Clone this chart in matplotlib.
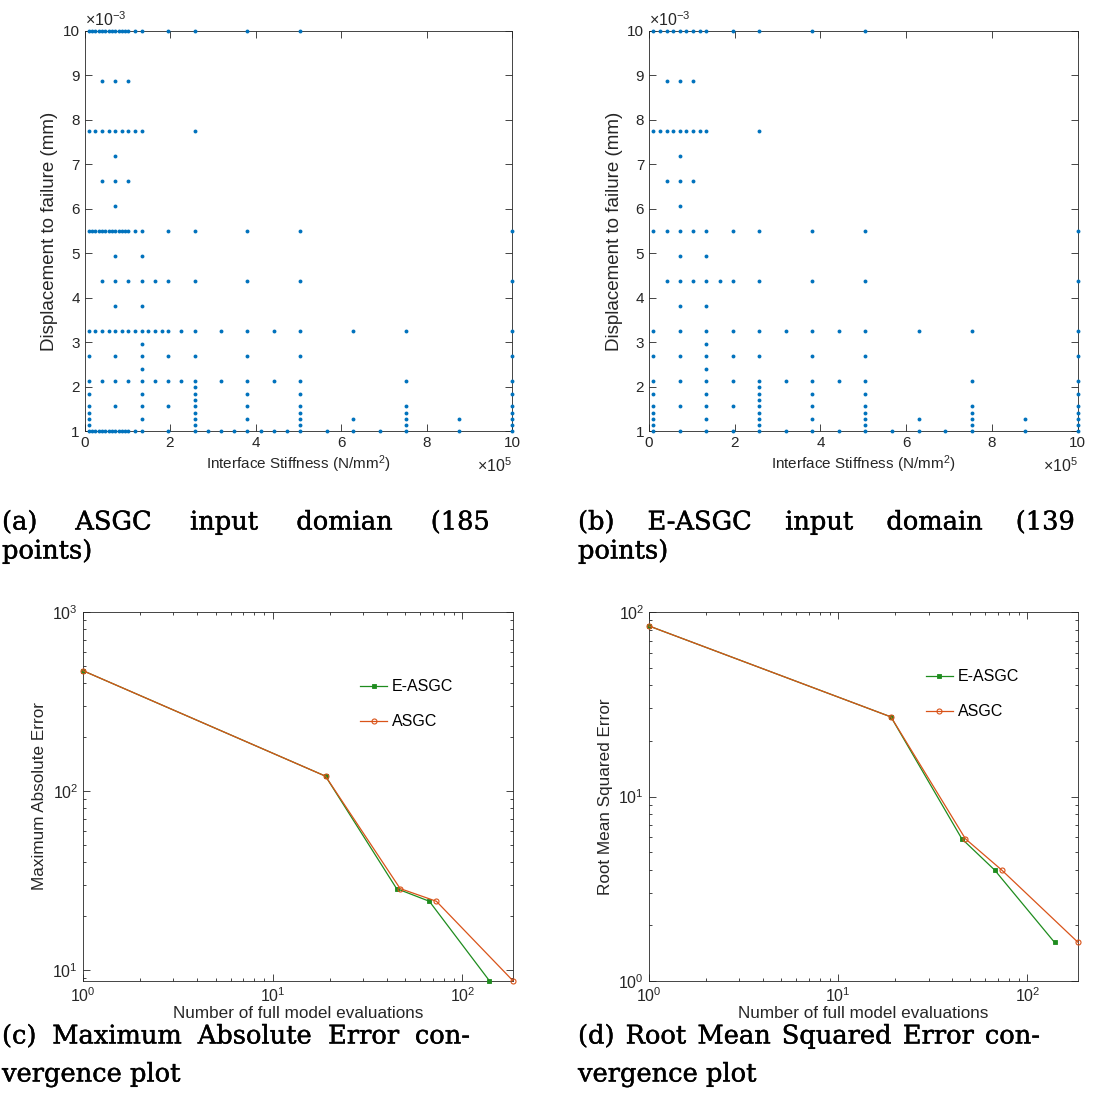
import matplotlib
matplotlib.use("Agg")
import matplotlib.pyplot as plt
import matplotlib.patheffects as pe
from matplotlib.ticker import LogLocator, NullFormatter, FixedLocator

plt.rcParams["font.family"] = ["Liberation Sans", "DejaVu Sans"]
plt.rcParams["mathtext.default"] = "regular"

W, H, DPI = 1095, 1113, 100

# ---------------------------------------------------------------------------
# Sparse-grid input domain: stiffness in N/mm^2, displacement to failure in mm.
# Nodes lie on a uniform lattice of N_STIFF x N_DISP intervals over the domain;
# each row lists the lattice columns that hold a collocation point.
STIFF_RANGE = (1.0e4, 1.0e6)
DISP_RANGE = (1.0e-3, 1.0e-2)
N_STIFF = 128
N_DISP = 64

asgc_rows = [64, 56, 48, 44, 40, 36, 32, 28, 24, 20, 16, 14, 12, 10, 8, 7, 6, 5, 4, 3, 2, 1, 0]
asgc_cols = [
    [0, 1, 2, 3, 4, 5, 6, 7, 8, 9, 10, 11, 12, 14, 16, 24, 32, 48, 64],
    [4, 8, 12],
    [0, 2, 4, 6, 8, 10, 12, 14, 16, 32],
    [8],
    [4, 8, 12],
    [8],
    [0, 1, 2, 3, 4, 5, 6, 7, 8, 9, 10, 11, 12, 14, 16, 24, 32, 48, 64, 128],
    [8, 16],
    [4, 8, 12, 16, 20, 24, 32, 48, 64, 128],
    [8, 16],
    [0, 2, 4, 6, 8, 10, 12, 14, 16, 18, 20, 22, 24, 28, 32, 40, 48, 56, 64, 80, 96, 128],
    [16],
    [0, 8, 16, 24, 32, 48, 64, 128],
    [16],
    [0, 4, 8, 12, 16, 20, 24, 28, 32, 40, 48, 56, 64, 96, 128],
    [32],
    [0, 16, 32, 48, 64, 128],
    [32],
    [0, 8, 16, 24, 32, 48, 64, 96, 128],
    [0, 32, 64, 96, 128],
    [0, 16, 32, 48, 64, 80, 96, 112, 128],
    [0, 32, 64, 96, 128],
    [0, 1, 2, 3, 4, 5, 6, 7, 8, 9, 10, 11, 12, 14, 16, 24, 32, 36, 40, 44, 48,
     52, 56, 60, 64, 72, 80, 88, 96, 112, 128],
]

easgc_rows = [64, 56, 48, 44, 40, 36, 32, 28, 24, 20, 16, 14, 12, 10, 8, 7, 6, 5, 4, 3, 2, 1, 0]
easgc_cols = [
    [0, 2, 4, 6, 8, 10, 12, 14, 16, 24, 32, 48, 64],
    [4, 8, 12],
    [0, 2, 4, 6, 8, 10, 12, 14, 16, 32],
    [8],
    [4, 8, 12],
    [8],
    [0, 4, 8, 12, 16, 24, 32, 48, 64, 128],
    [8, 16],
    [4, 8, 12, 16, 20, 24, 32, 48, 64, 128],
    [8, 16],
    [0, 8, 16, 24, 32, 40, 48, 56, 64, 80, 96, 128],
    [16],
    [0, 8, 16, 24, 32, 48, 64, 128],
    [16],
    [0, 8, 16, 24, 32, 40, 48, 56, 64, 96, 128],
    [32],
    [0, 16, 32, 48, 64, 128],
    [32],
    [0, 8, 16, 24, 32, 48, 64, 96, 128],
    [0, 32, 64, 96, 128],
    [0, 16, 32, 48, 64, 80, 96, 112, 128],
    [0, 32, 64, 96, 128],
    [0, 8, 16, 24, 32, 40, 48, 56, 64, 72, 80, 88, 96, 112, 128],
]

# Convergence histories
evals_easgc = [1, 19, 45, 67, 139]
evals_asgc = [1, 19, 47, 73, 185]
max_abs_err_easgc = [470, 121, 28.5, 24.2, 8.7]
max_abs_err_asgc = [470, 121, 28.5, 24.2, 8.7]
rmse_easgc = [84, 27, 5.9, 4.0, 1.62]
rmse_asgc = [84, 27, 5.9, 4.0, 1.62]

BLUE = "#0072BD"
GREEN = "#1E8C1E"
ORANGE = "#D95319"
AXC = "#262626"


def grid_points(rows, cols):
    xs, ys = [], []
    for m, cl in zip(rows, cols):
        for n in cl:
            xs.append(STIFF_RANGE[0] + n * (STIFF_RANGE[1] - STIFF_RANGE[0]) / N_STIFF)
            ys.append(DISP_RANGE[0] + m * (DISP_RANGE[1] - DISP_RANGE[0]) / N_DISP)
    return xs, ys


def px_axes(fig, left, top, right, bottom):
    return fig.add_axes([left / W, 1 - bottom / H, (right - left) / W, (bottom - top) / H])


def style(ax, size=11):
    for s in ax.spines.values():
        s.set_color(AXC)
        s.set_linewidth(0.6)
    ax.tick_params(which="both", direction="in", top=True, right=True,
                   colors=AXC, labelcolor=AXC, labelsize=size, width=0.6)
    ax.tick_params(which="major", length=5)
    ax.tick_params(which="minor", length=2.5)


fig = plt.figure(figsize=(W / DPI, H / DPI), dpi=DPI)

# ---- input-domain scatter plots -------------------------------------------
for (rows, cols), (l, r) in zip([(asgc_rows, asgc_cols), (easgc_rows, easgc_cols)],
                                [(84.5, 512), (649, 1077.7)]):
    ax = px_axes(fig, l, 30.7, r, 431.3)
    xs, ys = grid_points(rows, cols)
    ax.plot([x / 1e5 for x in xs], [y / 1e-3 for y in ys], "o", ms=2.8, mew=0,
            color=BLUE, clip_on=False, zorder=5)
    ax.set_xlim(0, 10)
    ax.set_ylim(1, 10)
    ax.xaxis.set_major_locator(FixedLocator([0, 2, 4, 6, 8, 10]))
    ax.yaxis.set_major_locator(FixedLocator(list(range(1, 11))))
    style(ax)
    ax.set_xlabel("Interface Stiffness (N/mm$^2$)", fontsize=11, color=AXC, labelpad=2)
    ax.set_ylabel("Displacement to failure (mm)", fontsize=13.5, color=AXC, labelpad=3)
    ax.text(0.0, 1.005, r"$\times10^{-3}$", transform=ax.transAxes, fontsize=11.5,
            color=AXC, ha="left", va="bottom")
    ax.text(1.0, -0.085, r"$\times10^{5}$", transform=ax.transAxes, fontsize=11.5,
            color=AXC, ha="right", va="center")

# ---- convergence plots ----------------------------------------------------
conv = [
    (max_abs_err_easgc, max_abs_err_asgc, "Maximum Absolute Error", (8.68, 1000), (83, 513), (0.63, 0.835)),
    (rmse_easgc, rmse_asgc, "Root Mean Squared Error", (1.0, 100), (649, 1078), (0.63, 0.862)),
]
for e_err, a_err, ylab, ylim, (l, r), leg_pos in conv:
    ax = px_axes(fig, l, 612, r, 981)
    ax.set_xscale("log")
    ax.set_yscale("log")
    ax.plot(evals_easgc, e_err, "-s", color=GREEN, lw=0.9, ms=2.6, mfc=GREEN, mew=0.6,
            label="E-ASGC", clip_on=False, zorder=4)
    ax.plot(evals_asgc, a_err, "-o", color=ORANGE, lw=0.9, ms=3.6, mfc="none", mew=0.8,
            label="ASGC", clip_on=False, zorder=5)
    ax.set_xlim(1, 185)
    ax.set_ylim(*ylim)
    ax.xaxis.set_major_locator(LogLocator(base=10, numticks=10))
    ax.xaxis.set_minor_locator(LogLocator(base=10, subs=range(2, 10), numticks=10))
    ax.xaxis.set_minor_formatter(NullFormatter())
    ax.yaxis.set_major_locator(LogLocator(base=10, numticks=10))
    ax.yaxis.set_minor_locator(LogLocator(base=10, subs=range(2, 10), numticks=10))
    ax.yaxis.set_minor_formatter(NullFormatter())
    style(ax, 11.5)
    ax.set_xlabel("Number of full model evaluations", fontsize=12.3, color=AXC, labelpad=1)
    ax.set_ylabel(ylab, fontsize=12.3, color=AXC, labelpad=4)
    ax.legend(loc="upper left", bbox_to_anchor=leg_pos, frameon=False, fontsize=11.5,
              handlelength=1.7, handletextpad=0.3, labelspacing=1.25, borderaxespad=0)

# ---- captions (justified lines) -------------------------------------------
renderer = fig.canvas.get_renderer()
CAP = dict(family=["DejaVu Serif"], fontsize=18.5, color="black",
           path_effects=[pe.withStroke(linewidth=0.3, foreground="black")])


def justified(words, x0, x1, yc):
    texts = [fig.text(0, 1 - yc / H, w, ha="left", va="center", **CAP) for w in words]
    widths = [t.get_window_extent(renderer).width for t in texts]
    if len(words) == 1:
        texts[0].set_x(x0 / W)
        return
    gap = (x1 - x0 - sum(widths)) / (len(words) - 1)
    x = x0
    for t, w in zip(texts, widths):
        t.set_x(x / W)
        x += w + gap


justified(["(a)", "ASGC", "input", "domian", "(185"], 2, 490, 522)
justified(["points)"], 2, 0, 551)
justified(["(b)", "E-ASGC", "input", "domain", "(139"], 578, 1075, 522)
justified(["points)"], 578, 0, 551)
justified(["(c)", "Maximum", "Absolute", "Error", "con-"], 2, 470, 1036)
justified(["vergence plot"], 2, 0, 1074)
justified(["(d)", "Root", "Mean", "Squared", "Error", "con-"], 578, 1040, 1036)
justified(["vergence plot"], 578, 0, 1074)

fig.savefig("out.png", dpi=DPI)
